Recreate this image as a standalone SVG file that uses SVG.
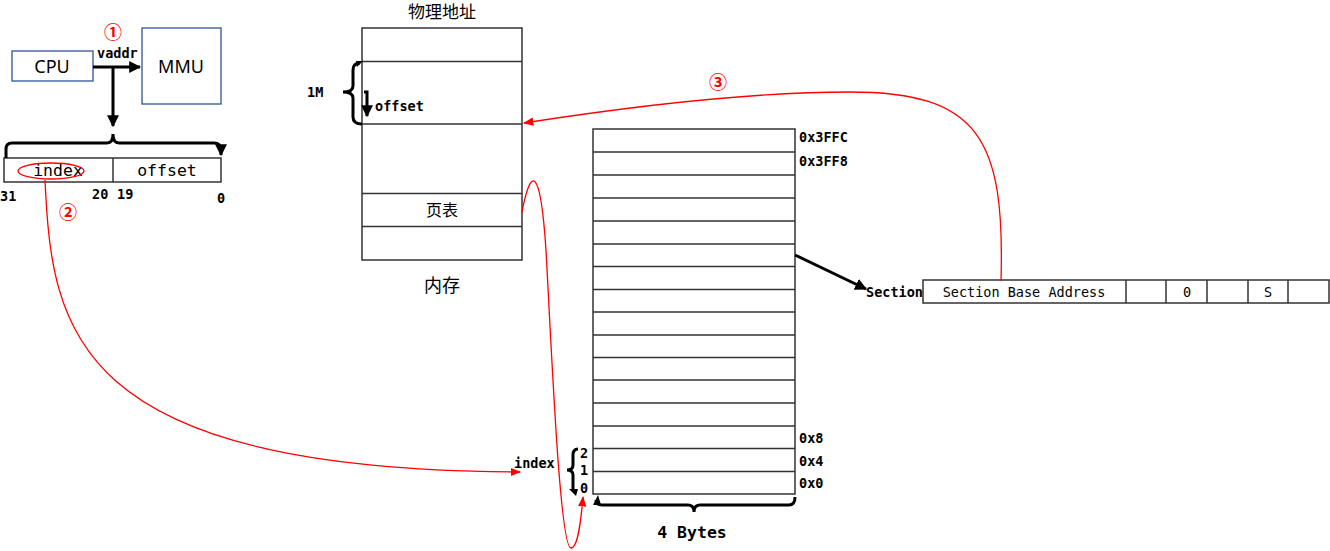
<svg xmlns="http://www.w3.org/2000/svg" width="1330" height="551" viewBox="0 0 1330 551">
<style>
.box{fill:#fff;stroke:#333;stroke-width:1.5}
.blue{fill:#fff;stroke:#2F5597;stroke-width:1.3}
.line{stroke:#333;stroke-width:1.5;fill:none}
.thick{stroke:#000;stroke-width:3;fill:none}
.red{stroke:#f00;stroke-width:1.3;fill:none}
.mb{font-family:"DejaVu Sans Mono",monospace;font-weight:bold;font-size:13.5px;fill:#000}
.m{font-family:"DejaVu Sans Mono",monospace;font-size:13.5px;fill:#000}
.big{font-size:16.5px}
.s{font-family:"Noto Sans","Noto Sans CJK SC",sans-serif;fill:#000}
.r{font-family:"Noto Sans CJK SC",sans-serif;fill:#f00;font-size:18px;font-weight:bold}
</style>
<defs>
<marker id="ab" viewBox="0 0 10 10" refX="9" refY="5" markerWidth="4" markerHeight="4" orient="auto"><path d="M0,0L10,5L0,10z" fill="#000"/></marker>
<marker id="ar" viewBox="0 0 10 10" refX="9" refY="5" markerWidth="8" markerHeight="8" orient="auto"><path d="M0,1L10,5L0,9z" fill="#f00"/></marker>
</defs>

<g id="cpu"><rect class="blue" x="12" y="51" width="81" height="30"/><text class="s" x="52" y="73" font-size="18" text-anchor="middle">CPU</text></g>
<g id="mmu"><rect class="blue" x="142" y="28" width="79" height="76"/><text class="s" x="181" y="73" font-size="18" text-anchor="middle">MMU</text></g>
<text class="r" x="113" y="39" text-anchor="middle">①</text>
<text class="mb" x="97" y="58">vaddr</text>

<g id="vaddr-bits">
<rect class="box" x="4" y="158" width="217" height="24"/>
<line class="line" x1="113" y1="158" x2="113" y2="182"/>
<text class="m big" x="58" y="176" text-anchor="middle">index</text>
<text class="m big" x="167" y="176" text-anchor="middle">offset</text>
<ellipse cx="51" cy="171" rx="33" ry="8" class="red"/>
<text class="mb" x="0" y="201">31</text>
<text class="mb" x="92" y="199">20</text>
<text class="mb" x="117" y="199">19</text>
<text class="mb" x="217" y="203">0</text>
</g>
<text class="r" x="68" y="219" text-anchor="middle">②</text>

<g id="memory">
<text class="s" x="442" y="18" font-size="17" text-anchor="middle">物理地址</text>
<rect class="box" x="362" y="28" width="160" height="232"/>
<line class="line" x1="362" y1="61.5" x2="522" y2="61.5"/>
<line class="line" x1="362" y1="124" x2="522" y2="124"/>
<line class="line" x1="362" y1="193.5" x2="522" y2="193.5"/>
<line class="line" x1="362" y1="226.5" x2="522" y2="226.5"/>
<text class="s" x="442" y="216" font-size="16" text-anchor="middle">页表</text>
<text class="s" x="442" y="292" font-size="18" text-anchor="middle">内存</text>
<path class="thick" d="M360,63 Q353,63 353,70 L353,86 Q353,92 343,92 Q353,92 353,98 L353,117 Q353,124 362,124"/>
<path d="M356,61 L363,61 L357,67z" fill="#000"/>
<path class="thick" d="M364,92 L367,92 L367,116" marker-end="url(#ab)"/>
<text class="mb" x="375" y="111">offset</text>
<text class="mb" x="307" y="97">1M</text>
</g>

<g id="page-table">
<rect class="box" x="593" y="129" width="202" height="365"/>
<path class="line" d="M593,152H795M593,175H795M593,198H795M593,221H795M593,244H795M593,266.5H795M593,289.5H795M593,312H795M593,335H795M593,357.5H795M593,380H795M593,403H795M593,426H795M593,448.5H795M593,471.5H795"/>
<text class="mb" x="799" y="142">0x3FFC</text>
<text class="mb" x="799" y="166">0x3FF8</text>
<text class="mb" x="799" y="443">0x8</text>
<text class="mb" x="799" y="466">0x4</text>
<text class="mb" x="799" y="488">0x0</text>
<path class="thick" d="M596,500 Q596,505 602,505 L688,505 Q694,505 694,512 Q694,505 700,505 L789,505 Q795,505 795,497"/>
<path d="M593,505 L598,495 L601,505z" fill="#000"/>
<text class="mb big" x="692" y="538" text-anchor="middle">4 Bytes</text>
<path class="thick" d="M578,449 Q573,449 573,455 L573,465 Q573,470 567,470 Q573,470 573,475 L573,490"/>
<path d="M569,489 L578,489 L576,496z" fill="#000"/>
<text class="mb" x="580" y="458">2</text>
<text class="mb" x="580" y="475">1</text>
<text class="mb" x="580" y="493">0</text>
<text class="mb" x="514" y="468">index</text>
</g>

<g id="section">
<text class="mb" x="866" y="297">Section</text>
<rect class="box" x="923" y="280" width="406" height="23" stroke-width="1.2"/>
<path class="line" stroke-width="1.2" d="M1126,280V303M1166,280V303M1207,280V303M1248,280V303M1288,280V303"/>
<text class="m" x="1024" y="297" text-anchor="middle">Section Base Address</text>
<text class="m" x="1187" y="297" text-anchor="middle">0</text>
<text class="m" x="1268" y="297" text-anchor="middle">S</text>
</g>
<text class="r" x="718" y="89" text-anchor="middle">③</text>

<g id="connectors">
<line class="thick" x1="113" y1="67" x2="113" y2="126" marker-end="url(#ab)"/>
<line class="thick" x1="93" y1="67" x2="140" y2="67" marker-end="url(#ab)"/>
<path class="thick" d="M6,158 L6,149 Q6,143 12,143 L107,143 Q113,143 113,134 Q113,143 119,143 L214,143 Q221,143 221,150 L221,155" marker-end="url(#ab)"/>
<line class="thick" x1="795" y1="255" x2="866" y2="289" marker-end="url(#ab)"/>
<path class="red" d="M45,180 C52,330 70,470 520,472" marker-end="url(#ar)"/>
<path class="red" d="M522,212 C530,170 540,160 546,250 C552,360 560,548 571,548 C578,548 581,520 583,497" marker-end="url(#ar)"/>
<path class="red" d="M1001,281 C1005,140 980,92 850,92 C760,92 640,105 524,123" marker-end="url(#ar)"/>
</g>
</svg>
